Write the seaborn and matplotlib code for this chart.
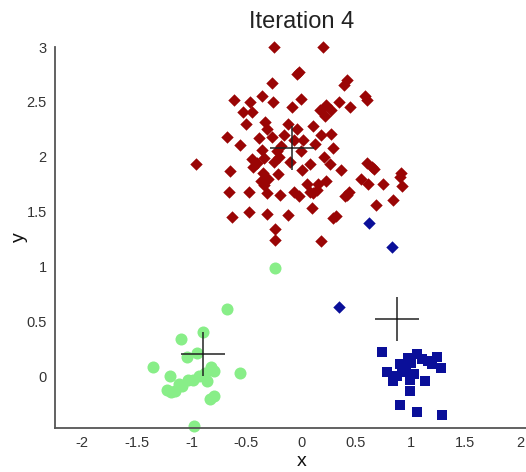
import numpy as np
import pandas as pd
import matplotlib
matplotlib.use('Agg')
import matplotlib.pyplot as plt
import seaborn as sns

# red cluster (diamonds)
red_x = [-0.25, 0.20, -0.04, -0.02, -0.27, 0.39, 0.42, 0.58, 0.60, -0.61, -0.47, -0.36, -0.26,
         -0.53, -0.45, -0.08, 0.00, 0.17, 0.23, 0.22, 0.27, -0.33, -0.31, -0.68, -0.56, -0.39,
         -0.27, -0.16, -0.04, -0.07, 0.11, 0.13, 0.27, 0.29, -0.36, -0.22, -0.18, -0.96, -0.65,
         -0.40, -0.34, -0.44, -0.21, 0.01, 0.08, 0.21, 0.26, 0.36, 0.60, 0.65, 0.67, 0.90, 0.91,
         0.92, -0.66, -0.48, -0.37, -0.34, -0.31, -0.19, -0.07, -0.02, 0.08, 0.11, 0.14, 0.23,
         0.40, 0.42, 0.44, 0.61, 0.68, 0.84, -0.63, -0.48, -0.31, -0.12, 0.10, 0.29, 0.32, -0.24,
         -0.24, 0.18, -0.35, -0.30, -0.25, -0.20, -0.45, 0.05, 0.15, -0.10, 0.00, -0.12, 0.02,
         0.18, -0.50, 0.35, 0.45, 0.55, 0.75]
red_y = [3.00, 3.00, 2.75, 2.77, 2.67, 2.65, 2.70, 2.55, 2.52, 2.52, 2.50, 2.55, 2.50,
         2.41, 2.41, 2.45, 2.53, 2.43, 2.47, 2.37, 2.43, 2.32, 2.25, 2.18, 2.11, 2.17,
         2.18, 2.20, 2.25, 2.15, 2.28, 2.12, 2.21, 2.08, 2.06, 2.05, 2.10, 1.93, 1.87,
         1.94, 1.99, 1.91, 1.84, 1.88, 1.93, 2.00, 1.93, 1.88, 1.94, 1.91, 1.89, 1.82, 1.85,
         1.73, 1.68, 1.68, 1.78, 1.74, 1.67, 1.65, 1.68, 1.64, 1.68, 1.67, 1.70, 1.78,
         1.64, 1.65, 1.68, 1.75, 1.56, 1.61, 1.45, 1.50, 1.48, 1.47, 1.53, 1.44, 1.46, 1.34,
         1.24, 1.23, 1.85, 1.80, 1.95, 2.00, 1.98, 1.75, 1.75, 1.95, 2.05, 2.30, 2.15,
         2.20, 2.30, 2.50, 2.45, 1.80, 1.75]

# blue cluster (squares) + blue diamonds
blue_x = [0.74, 0.98, 1.06, 1.24, 0.90, 1.00, 1.16, 1.20, 1.28, 0.78, 0.92, 0.96, 1.03,
          0.84, 0.99, 1.13, 0.99, 0.90, 1.06, 1.29, 0.95, 1.10, 0.88]
blue_y = [0.22, 0.17, 0.20, 0.18, 0.11, 0.12, 0.14, 0.11, 0.08, 0.04, 0.05, 0.04, 0.02,
          -0.04, -0.03, -0.04, -0.13, -0.26, -0.32, -0.35, 0.08, 0.16, 0.00]
blue_dx = [0.62, 0.83, 0.35]
blue_dy = [1.40, 1.18, 0.63]

# green cluster (circles)
green_x = [-0.68, -0.90, -1.10, -1.04, -0.95, -1.35, -1.20, -0.56, -0.82, -0.80, -0.86, -0.99,
           -1.03, -1.09, -1.15, -1.23, -1.19, -1.12, -0.80, -0.83, -0.98, -0.24, -0.88, -0.93]
green_y = [0.61, 0.40, 0.34, 0.18, 0.21, 0.09, 0.00, 0.03, 0.09, 0.05, -0.04, -0.03,
           -0.03, -0.09, -0.13, -0.12, -0.14, -0.07, -0.18, -0.21, -0.45, 0.99, 0.03, 0.00]

# centroids
cent_x = [-0.08, -0.90, 0.88]
cent_y = [2.08, 0.20, 0.52]

x_ticks = [-2, -1.5, -1, -0.5, 0, 0.5, 1, 1.5, 2]
y_ticks = [0, 0.5, 1, 1.5, 2, 2.5, 3]

sns.set_style('white')
plt.rcParams['font.family'] = ['Liberation Sans', 'DejaVu Sans']

fig = plt.figure(figsize=(5.26, 4.72), dpi=100)
ax = fig.add_axes([0.1046, 0.0932, 0.936, 0.8072])

red_c = '#9a0505'
blue_c = '#0a0f99'
green_c = '#88ee88'

sns.scatterplot(x=green_x, y=green_y, marker='o', s=75, color=green_c, edgecolor=green_c,
                linewidth=0, ax=ax, clip_on=False)
sns.scatterplot(x=blue_x, y=blue_y, marker='s', s=45, color=blue_c, edgecolor=blue_c,
                linewidth=0, ax=ax)
sns.scatterplot(x=blue_dx, y=blue_dy, marker='D', s=40, color=blue_c, edgecolor=blue_c,
                linewidth=0, ax=ax)
sns.scatterplot(x=red_x, y=red_y, marker='D', s=40, color=red_c, edgecolor=red_c,
                linewidth=0, ax=ax, clip_on=False)
sns.scatterplot(x=cent_x, y=cent_y, marker='+', s=1000, color='#222222', linewidth=1.1, ax=ax)

ax.set_xlim(-2.25, 2.25)
ax.set_ylim(-0.47, 3.0)
ax.set_xticks(x_ticks)
ax.set_xticklabels(['-2', '-1.5', '-1', '-0.5', '0', '0.5', '1', '1.5', '2'])
ax.set_yticks(y_ticks)
ax.set_yticklabels(['0', '0.5', '1', '1.5', '2', '2.5', '3'])
ax.tick_params(direction='in', length=5, width=1, colors='#444444', labelsize=10.5,
               labelcolor='#333333', pad=6)
for side in ['top', 'right']:
    ax.spines[side].set_visible(False)
for side in ['left', 'bottom']:
    ax.spines[side].set_color('#555555')
    ax.spines[side].set_linewidth(1.3)

ax.set_title('Iteration 4', fontsize=17, color='#222222', pad=14)
ax.set_xlabel('x', fontsize=14, color='#111111', labelpad=2)
ax.set_ylabel('y', fontsize=14, color='#111111', labelpad=-1)

fig.savefig('out.png', dpi=100)
